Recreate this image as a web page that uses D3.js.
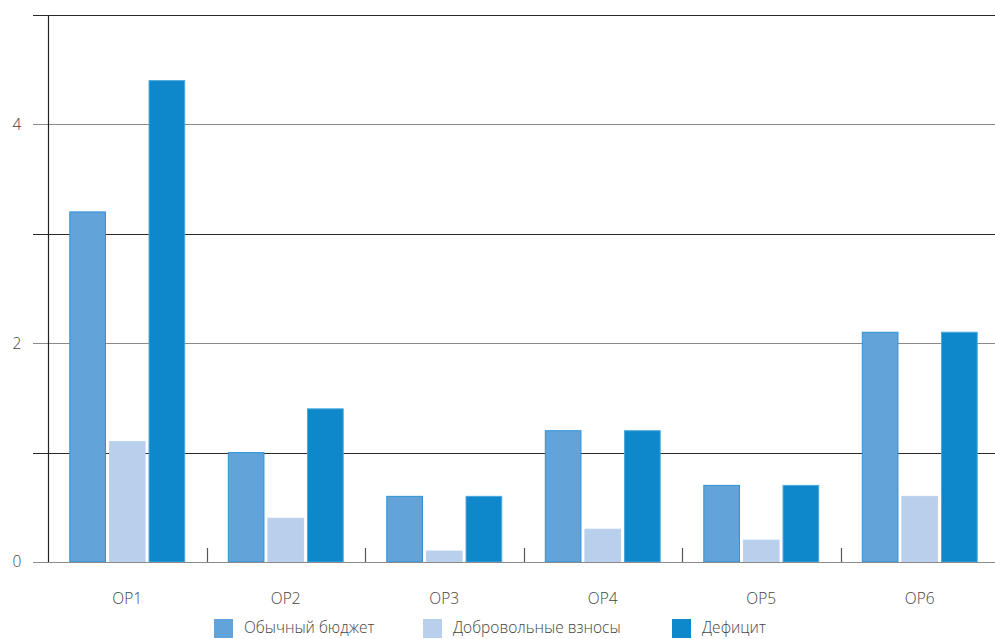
<!DOCTYPE html>
<html><head><meta charset="utf-8">
<script src="https://cdn.jsdelivr.net/npm/d3@7"></script>
<style>body{margin:0;background:#fff}svg{display:block}text{font-family:"Open Sans",sans-serif;font-weight:300}</style>
</head><body>
<svg id="c" width="995" height="639"></svg>
<script>
const categories = ["OP1","OP2","OP3","OP4","OP5","OP6"];
const seriesNames = ["Обычный бюджет","Добровольные взносы","Дефицит"];
const regularBudget = [3.2,1.0,0.6,1.2,0.7,2.1];
const voluntary = [1.1,0.4,0.1,0.3,0.2,0.6];
const deficit = [4.4,1.4,0.6,1.2,0.7,2.1];
const yTickLabels = [0,2,4];
const gridValues = [0,1,2,3,4,5];
const colors = ["#62a3d9","#b9d0ec","#0f87cb"];
const strokes = ["#2f91d6","#b9d0ec","#4aa6dd"];

const seriesValues = [regularBudget, voluntary, deficit];
const svg = d3.select("#c");
const y = d3.scaleLinear().domain([0,5]).range([562,15]);
const x0 = d3.scaleBand().domain(categories).range([48,999]).paddingInner(0).paddingOuter(0);
const x1 = d3.scaleBand().domain(seriesNames).range([0,x0.bandwidth()]).paddingInner(0.1).paddingOuter(0.55);

// gridlines
svg.append("g").selectAll("line").data(gridValues).join("line")
  .attr("x1",33).attr("x2",995)
  .attr("y1",d=>Math.round(y(d))+0.5).attr("y2",d=>Math.round(y(d))+0.5)
  .attr("stroke",d=>d%2===0?"#8a8a8a":"#2a2a2a").attr("stroke-width",1.2);

// y labels
svg.append("g").selectAll("text").data(yTickLabels).join("text")
  .attr("x",17).attr("y",d=>y(d)).attr("dy","0.35em").attr("text-anchor","middle")
  .attr("font-size",15.5).attr("fill","#444").text(d=>d);

// y axis line
svg.append("line").attr("x1",48.5).attr("x2",48.5).attr("y1",15).attr("y2",562)
  .attr("stroke","#222").attr("stroke-width",1.2);

// bars
const g = svg.append("g");
categories.forEach((c,i)=>{
  seriesNames.forEach((s,j)=>{
    const v = seriesValues[j][i];
    g.append("rect")
      .attr("x",x0(c)+x1(s)).attr("width",x1.bandwidth())
      .attr("y",y(v)).attr("height",y(0)-y(v))
      .attr("fill",colors[j]).attr("stroke",strokes[j]).attr("stroke-width",1);
  });
});

// category separator ticks
svg.append("g").selectAll("line").data(categories.slice(1)).join("line")
  .attr("x1",d=>Math.round(x0(d))+0.5).attr("x2",d=>Math.round(x0(d))+0.5)
  .attr("y1",548).attr("y2",562).attr("stroke","#555").attr("stroke-width",1.2);

// baseline redraw
svg.append("line").attr("x1",33).attr("x2",995).attr("y1",562.5).attr("y2",562.5)
  .attr("stroke","#8a8a8a").attr("stroke-width",1.2);

// category labels
svg.append("g").selectAll("text").data(categories).join("text")
  .attr("x",d=>x0(d)+x0.bandwidth()/2).attr("y",599).attr("dy","0.35em")
  .attr("text-anchor","middle").attr("font-size",15.5).attr("fill","#444").text(d=>d);

// legend
const legX = [214,423,672];
const leg = svg.append("g");
seriesNames.forEach((s,j)=>{
  leg.append("rect").attr("x",legX[j]).attr("y",619).attr("width",19).attr("height",19).attr("fill",colors[j]);
  leg.append("text").attr("x",legX[j]+30).attr("y",628).attr("dy","0.35em")
    .attr("font-size",15.5).attr("fill","#444").text(s);
});
</script>
</body></html>
